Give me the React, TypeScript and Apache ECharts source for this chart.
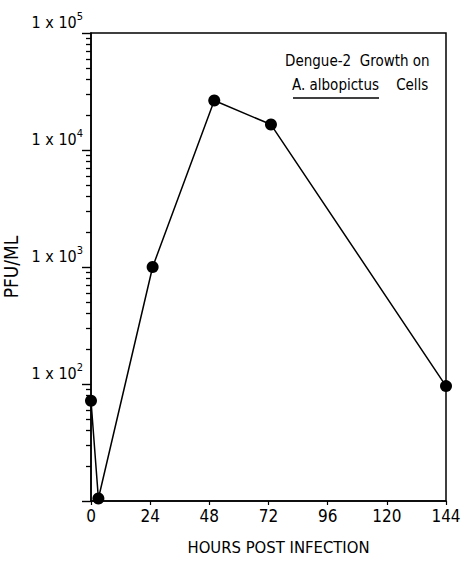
import React, { useEffect, useRef } from "react";
import * as echarts from "echarts";

const hours = [0, 3, 25, 50, 73, 144];
const pfu = [72, 10.5, 1000, 26500, 16500, 96];
const xTicks = [0, 24, 48, 72, 96, 120, 144];
const yMajor = [10, 100, 1000, 10000, 100000];
const yLabelExp = ["", "2", "3", "4", "5"];
const minorSteps = [2, 3, 4, 5, 6, 7, 8, 9];

const FONT = "'DejaVu Sans Condensed', 'DejaVu Sans', sans-serif";

export default function App() {
  const ref = useRef<HTMLDivElement>(null);
  useEffect(() => {
    if (!ref.current) return;
    const chart = echarts.init(ref.current, undefined, { renderer: "svg" });
    const minorVals: number[] = [];
    for (let i = 0; i < yMajor.length - 1; i++) {
      for (const m of minorSteps) minorVals.push(yMajor[i] * m);
    }
    chart.setOption({
      animation: false,
      backgroundColor: "#fff",
      textStyle: { fontFamily: FONT, color: "#000" },
      grid: {
        left: 91,
        right: 18,
        top: 33,
        bottom: 61,
        show: true,
        borderColor: "#000",
        borderWidth: 1.5,
        containLabel: false,
        outerBoundsMode: "none",
      },
      xAxis: {
        type: "value",
        min: 0,
        max: 144,
        interval: 24,
        name: "HOURS POST INFECTION",
        nameLocation: "middle",
        nameGap: 38,
        nameTextStyle: { fontSize: 16.5, color: "#000", fontFamily: FONT, padding: [0, 0, 0, 20] },
        axisLine: { show: true, lineStyle: { color: "#000", width: 1.5 } },
        axisTick: { show: true, inside: false, length: 4, lineStyle: { color: "#000", width: 1.2 }, customValues: xTicks },
        axisLabel: { color: "#000", fontSize: 17, margin: 6, fontFamily: FONT, customValues: xTicks },
        splitLine: { show: false },
      },
      yAxis: [
        {
          type: "log",
          logBase: 10,
          min: 10,
          max: 100000,
          name: "PFU/ML",
          nameLocation: "middle",
          nameGap: 56,
          nameTextStyle: { fontSize: 19, color: "#000", fontFamily: FONT },
          axisLine: { show: true, lineStyle: { color: "#000", width: 1.5 } },
          axisTick: { show: true, inside: false, length: 9, lineStyle: { color: "#000", width: 1.4 } },
          axisLabel: {
            margin: 8,
            verticalAlign: "bottom",
            formatter: (v: number) => {
              const idx = yMajor.findIndex((m) => Math.abs(m - v) / m < 1e-6);
              if (idx < 0 || !yLabelExp[idx]) return "";
              return `{b|1 x 10}{s|${yLabelExp[idx]}}`;
            },
            rich: {
              b: { fontSize: 16, color: "#000", fontFamily: FONT },
              s: { fontSize: 11, color: "#000", fontFamily: FONT, padding: [0, 0, 11, 0] },
            },
          },
          splitLine: { show: false },
        },
        {
          type: "log",
          logBase: 10,
          min: 10,
          max: 100000,
          position: "left",
          axisLine: { show: false },
          axisTick: {
            show: true,
            inside: false,
            length: 5,
            customValues: minorVals,
            lineStyle: { color: "#000", width: 1.3 },
          },
          axisLabel: { show: false },
          splitLine: { show: false },
        },
      ],
      graphic: [
        { type: "text", left: 285, top: 53, style: { text: "Dengue-2  Growth on", font: `15px ${FONT}`, fill: "#000" } },
        { type: "text", left: 292, top: 77, style: { text: "A. albopictus    Cells", font: `15px ${FONT}`, fill: "#000" } },
        { type: "line", shape: { x1: 293, y1: 98, x2: 379, y2: 98 }, style: { stroke: "#000", lineWidth: 1.5 } },
      ],
      series: [
        {
          type: "line",
          yAxisIndex: 0,
          data: hours.map((h, i) => [h, pfu[i]]),
          symbol: "circle",
          symbolSize: 12,
          itemStyle: { color: "#000" },
          lineStyle: { color: "#000", width: 1.5 },
          clip: false,
        },
      ],
    });
    return () => chart.dispose();
  }, []);
  return <div ref={ref} style={{ width: 464, height: 562, position: "absolute", left: 0, top: 0 }} />;
}
